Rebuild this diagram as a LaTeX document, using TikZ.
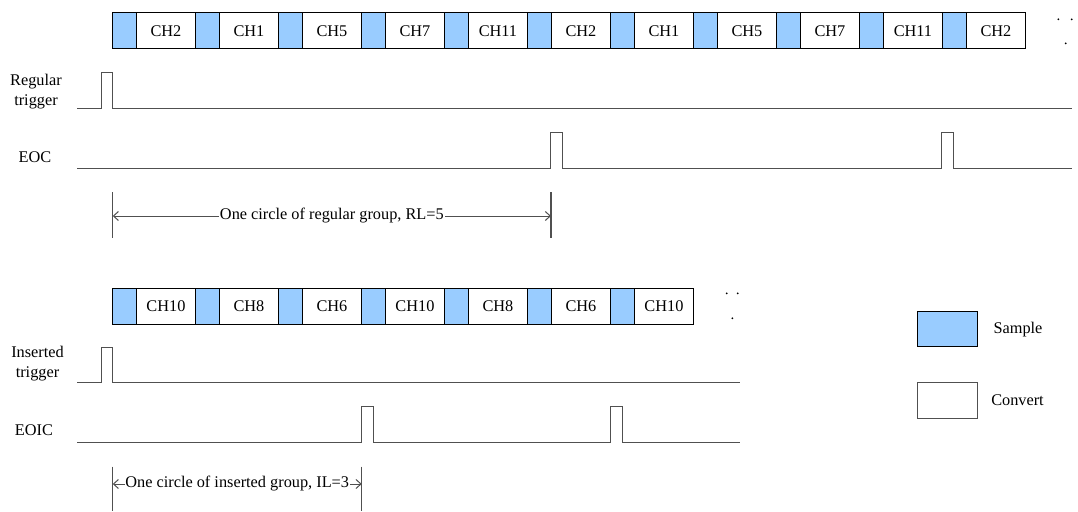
\documentclass[tikz,border=0pt]{standalone}
\usepackage{fontspec}
\setmainfont{Liberation Serif}
\usetikzlibrary{arrows.meta}
\definecolor{sampblue}{HTML}{99CCFF}
\definecolor{wavegray}{HTML}{505050}
\tikzset{
  sampbox/.style={draw=black, line width=1pt, fill=sampblue, minimum width=23.5pt, minimum height=36pt, inner sep=0pt, outer sep=0pt, anchor=north west},
  convbox/.style={draw=black, line width=1pt, fill=white, minimum width=59.5pt, minimum height=36pt, inner sep=0pt, outer sep=0pt, anchor=north west},
  wave/.style={draw=wavegray, line width=1.1pt},
  tick/.style={draw=wavegray, line width=1.1pt},
  dim/.style={draw=wavegray, line width=1pt, {Straight Barb[length=5pt,width=9pt]}-{Straight Barb[length=5pt,width=9pt]}},
  dimtext/.style={fill=white, inner sep=1pt},
  lbl/.style={align=center, inner sep=0pt},
  dot/.style={fill=black, circle, inner sep=0pt, minimum size=2pt}
}
\begin{document}
\begin{tikzpicture}[x=1pt, y=-1pt, font=\fontsize{16.3}{20}\selectfont]
\useasboundingbox[fill=white] (0,0) rectangle (1078,511);

% regular group blocks
\foreach \c [count=\i from 0] in {CH2,CH1,CH5,CH7,CH11,CH2,CH1,CH5,CH7,CH11,CH2} {
  \node[sampbox] (rs\i) at ({112.7+\i*83},13) {};
  \node[convbox] (rc\i) at ({136.2+\i*83},13) {\c};
}
\node[dot] (rd1) at (1058.3,19.3) {};
\node[dot] (rd2) at (1071.7,19.3) {};
\node[dot] (rd3) at (1065.7,43.3) {};

% inserted group blocks
\foreach \c [count=\i from 0] in {CH10,CH8,CH6,CH10,CH8,CH6,CH10} {
  \node[sampbox] (is\i) at ({112.7+\i*83},288) {};
  \node[convbox] (ic\i) at ({136.2+\i*83},288) {\c};
}
\node[dot] (id1) at (726.7,293.3) {};
\node[dot] (id2) at (737.7,293.3) {};
\node[dot] (id3) at (732.3,318.3) {};

% labels
\node[lbl] (lrt) at (36,92) {Regular\\trigger};
\node[lbl] (leoc) at (35,157) {EOC};
\node[lbl] (lit) at (37.5,364) {Inserted\\trigger};
\node[lbl] (leoic) at (34,430) {EOIC};

% waveforms
\draw[wave] (77.3,108.3) -- (101.5,108.3) -- (101.5,72.3) -- (112.7,72.3) -- (112.7,108.3) -- (1072,108.3);
\draw[wave] (77.3,168.3) -- (550.7,168.3) -- (550.7,132.3) -- (562.7,132.3) -- (562.7,168.3)
  -- (941.7,168.3) -- (941.7,132.3) -- (953.3,132.3) -- (953.3,168.3) -- (1072,168.3);
\draw[wave] (77.3,382.7) -- (101.5,382.7) -- (101.5,347.3) -- (112.7,347.3) -- (112.7,382.7) -- (740,382.7);
\draw[wave] (77.3,442.3) -- (361.7,442.3) -- (361.7,406.7) -- (373.3,406.7) -- (373.3,442.3)
  -- (610.3,442.3) -- (610.3,406.7) -- (622.7,406.7) -- (622.7,442.3) -- (740,442.3);

% dimension: regular
\coordinate (r1t) at (112.7,192);
\coordinate (r1b) at (112.7,238);
\coordinate (r2t) at (551,192);
\coordinate (r2b) at (551,238);
\draw[tick] (r1t) -- (r1b);
\draw[tick] (r2t) -- (r2b);
\coordinate (ra) at (112.7,216);
\coordinate (rb) at (551,216);
\draw[dim] (ra) -- node[dimtext] (rtext) {One circle of regular group, RL=5} (rb);

% dimension: inserted
\coordinate (i1t) at (112.7,466.7);
\coordinate (i1b) at (112.7,511);
\coordinate (i2t) at (361.7,466.7);
\coordinate (i2b) at (361.7,511);
\draw[tick] (i1t) -- (i1b);
\draw[tick] (i2t) -- (i2b);
\coordinate (ia) at (112.7,484);
\coordinate (ib) at (361.7,484);
\draw[dim] (ia) -- node[dimtext, inner sep=0.5pt] (itext) {One circle of inserted group, IL=3} (ib);

% legend
\node[sampbox, minimum width=59.6pt, minimum height=35pt] (legs) at (917.7,311.7) {};
\node[convbox, draw=wavegray, minimum width=59.6pt, minimum height=35.6pt] (legc) at (917.7,382.7) {};
\node (legst) at (1018,329.3) {Sample};
\node (legct) at (1017.5,400) {Convert};
\end{tikzpicture}
\end{document}
